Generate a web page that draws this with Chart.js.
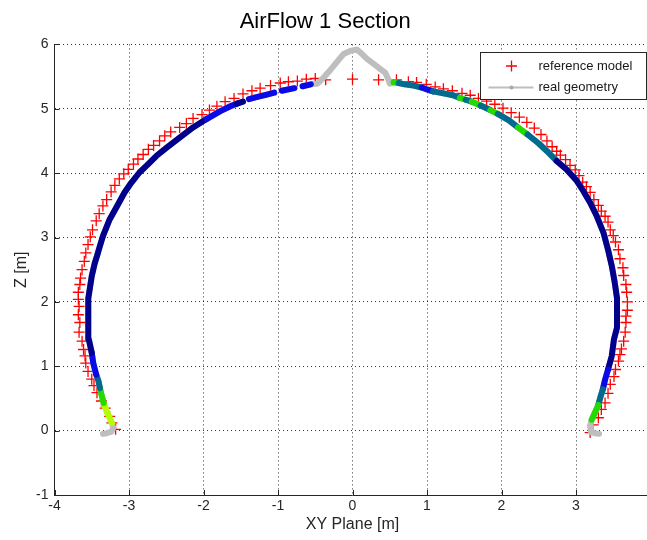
<!DOCTYPE html>
<html>
<head>
<meta charset="utf-8">
<title>AirFlow 1 Section</title>
<script src="https://cdn.jsdelivr.net/npm/chart.js@4.4.1/dist/chart.umd.min.js"></script>
<style>
  html, body { margin: 0; padding: 0; background: #fff; overflow: hidden; }
  #wrap { position: absolute; left: 0; top: 0; width: 705px; height: 540px; }
</style>
</head>
<body>
<div id="wrap"><canvas id="section" width="705" height="540"></canvas></div>
<script>
// reference model (red crosses), from bottom left over the crown to bottom right
const refX = [-3.18, -3.23, -3.26, -3.32, -3.37, -3.43, -3.47, -3.50, -3.55, -3.58, -3.59, -3.61, -3.63, -3.67, -3.66, -3.68, -3.67, -3.68, -3.68,
  -3.66, -3.65, -3.63, -3.60, -3.58, -3.55, -3.52, -3.49, -3.44, -3.40, -3.35, -3.30, -3.24, -3.19, -3.13, -3.07, -3.01, -2.94, -2.88, -2.81,
  -2.74, -2.67, -2.59, -2.52, -2.44, -2.32, -2.23, -2.14, -2.02, -1.92, -1.82, -1.71, -1.59, -1.47, -1.35, -1.24, -1.10, -0.97, -0.86, -0.74,
  -0.62, -0.50, -0.36, 0.00, 0.35, 0.59, 0.75, 0.86, 0.99, 1.11, 1.22, 1.34, 1.47, 1.58, 1.69, 1.80, 1.91, 2.02, 2.13, 2.24, 2.34, 2.44,
  2.53, 2.61, 2.68, 2.74, 2.79, 2.86, 2.92, 2.99, 3.04, 3.09, 3.14, 3.19, 3.24, 3.30, 3.34, 3.39, 3.43, 3.46, 3.50, 3.53, 3.57, 3.59, 3.63,
  3.64, 3.67, 3.68, 3.69, 3.69, 3.67, 3.67, 3.66, 3.64, 3.61, 3.59, 3.57, 3.53, 3.51, 3.46, 3.43, 3.39, 3.34, 3.30, 3.23, 3.19];
const refZ = [0.02, 0.12, 0.22, 0.35, 0.46, 0.59, 0.70, 0.80, 0.92, 1.05, 1.16, 1.26, 1.39, 1.53, 1.68, 1.80, 1.93, 2.04, 2.15,
  2.27, 2.37, 2.50, 2.63, 2.76, 2.89, 3.01, 3.12, 3.26, 3.37, 3.49, 3.59, 3.71, 3.81, 3.91, 3.99, 4.06, 4.14, 4.22, 4.29,
  4.37, 4.43, 4.50, 4.58, 4.64, 4.71, 4.77, 4.85, 4.91, 4.98, 5.04, 5.11, 5.16, 5.23, 5.28, 5.32, 5.36, 5.40, 5.42, 5.43,
  5.46, 5.47, 5.45, 5.46, 5.45, 5.45, 5.42, 5.41, 5.38, 5.34, 5.31, 5.28, 5.24, 5.21, 5.16, 5.12, 5.07, 5.01, 4.94, 4.87, 4.79, 4.70,
  4.60, 4.50, 4.41, 4.34, 4.28, 4.21, 4.12, 4.05, 3.96, 3.86, 3.79, 3.70, 3.59, 3.50, 3.41, 3.33, 3.24, 3.12, 3.03, 2.93, 2.81, 2.67, 2.53,
  2.41, 2.27, 2.15, 2.00, 1.87, 1.78, 1.68, 1.53, 1.39, 1.27, 1.18, 1.08, 0.95, 0.84, 0.72, 0.58, 0.43, 0.33, 0.20, 0.09, -0.03];

// measured geometry, same direction; null z = no data
const geoX = [-3.35, -3.30, -3.24, -3.21, -3.23, -3.26, -3.30, -3.34, -3.37, -3.39, -3.41, -3.44, -3.48, -3.50, -3.54, -3.55, -3.55,
  -3.54, -3.52, -3.50, -3.46, -3.43, -3.39, -3.35, -3.26, -3.15, -3.06, -2.97, -2.86, -2.76, -2.63, -2.49, -2.32, -2.14, -1.96, -1.78,
  -1.64, -1.55, -1.47, -1.43, -1.39, -1.29, -1.15, -1.05, -1.00, -0.95, -0.78, -0.71, -0.67, -0.56, -0.47,
  -0.40, -0.30, -0.20, -0.12, -0.03, 0.06, 0.12, 0.19, 0.28, 0.37, 0.44, 0.48, 0.50,
  0.55, 0.62, 0.70, 0.82, 0.93, 1.00, 1.08, 1.17, 1.35, 1.44, 1.52, 1.60, 1.72, 1.85, 1.95, 2.10, 2.22, 2.35, 2.50, 2.63,
  2.74, 2.87, 3.01, 3.10, 3.19, 3.28, 3.37, 3.43, 3.48, 3.52, 3.55, 3.55, 3.55, 3.51, 3.48, 3.43, 3.39, 3.36, 3.33, 3.30, 3.25, 3.21,
  3.19, 3.20, 3.25, 3.31];
const geoZ = [-0.05, -0.04, -0.02, 0.04, 0.12, 0.20, 0.30, 0.43, 0.56, 0.66, 0.77, 0.87, 1.05, 1.21, 1.42, 1.67, 1.93,
  2.05, 2.25, 2.40, 2.60, 2.71, 2.87, 3.02, 3.28, 3.51, 3.70, 3.85, 4.01, 4.12, 4.27, 4.40, 4.55, 4.71, 4.84, 4.96,
  5.04, 5.08, 5.11, null, 5.15, 5.18, 5.22, 5.25, null, 5.28, 5.32, null, 5.35, 5.38, 5.39,
  5.47, 5.60, 5.74, 5.85, 5.90, 5.92, 5.86, 5.78, 5.70, 5.62, 5.56, 5.46, 5.39,
  5.41, 5.40, 5.38, 5.36, 5.33, 5.30, 5.27, 5.25, 5.21, 5.17, 5.14, 5.11, 5.05, 4.98, 4.92, 4.82, 4.71, 4.60, 4.46, 4.32,
  4.19, 4.06, 3.88, 3.72, 3.54, 3.33, 3.07, 2.81, 2.56, 2.30, 2.06, 1.80, 1.60, 1.42, 1.16, 0.95, 0.79, 0.64, 0.53, 0.40, 0.27, 0.17,
  0.07, -0.02, -0.04, -0.05];
// deviation class per point (0..4), null = plain geometry only
const geoLevel = [null, null, null, null, 4, 4, 4, 3, 3, 2, 2, 1, 1, 0, 0, 0, 0,
  0, 0, 0, 0, 0, 0, 0, 0, 0, 0, 0, 0, 0, 0, 0, 0, 0, 1, 1,
  1, 0, 0, null, 1, 1, 1, 1, null, 1, 1, null, 1, 1, null,
  null, null, null, null, null, null, null, null, null, null, null, null, null,
  3, 2, 2, 2, 1, 1, 2, 2, 2, 3, 2, 3, 2, 3, 2, 2, 3, 2, 2, 2,
  0, 0, 0, 0, 0, 0, 0, 0, 0, 0, 0, 0, 0, 0, 0, 1, 1, 2, 2, 3, 3, 3,
  null, null, null, null];

const xTicks = [-4, -3, -2, -1, 0, 1, 2, 3, 4];
const zTicks = [-1, 0, 1, 2, 3, 4, 5, 6];

const levelColors = ['#00008c', '#0a0ae6', '#006b8f', '#22dc00', '#b4ff00'];
const greyGeo = '#bebebe';
const FONT = '"Liberation Sans", Arial, sans-serif';

const refPoints = refX.map((x, i) => ({ x: x, y: refZ[i] }));
const geoPoints = geoX.map((x, i) => ({ x: x, y: geoZ[i] }));
const colouredPoints = geoX.map((x, i) => ({ x: x, y: geoLevel[i] === null ? null : geoZ[i] }));

// matlab style ticks pointing into the axes
const innerTicks = {
  id: 'innerTicks',
  afterDraw(chart) {
    const ctx = chart.ctx;
    const xs = chart.scales.x, ys = chart.scales.y;
    const a = chart.chartArea;
    ctx.save();
    ctx.strokeStyle = '#262626';
    ctx.lineWidth = 1;
    ctx.beginPath();
    xTicks.forEach(v => {
      const px = Math.round(xs.getPixelForValue(v)) + 0.5;
      ctx.moveTo(px, a.bottom);
      ctx.lineTo(px, a.bottom - 5);
    });
    zTicks.forEach(v => {
      const py = Math.round(ys.getPixelForValue(v)) + 0.5;
      ctx.moveTo(a.left, py);
      ctx.lineTo(a.left + 5, py);
    });
    ctx.stroke();
    ctx.restore();
  }
};

// boxed legend in the upper right corner of the axes
const boxLegend = {
  id: 'boxLegend',
  afterDraw(chart) {
    const ctx = chart.ctx;
    const a = chart.chartArea;
    const right = Math.round(a.right) - 4.5;
    const left = right - 166;
    const top = Math.round(a.top) + 8.5;
    const h = 47;
    ctx.save();
    ctx.fillStyle = '#fff';
    ctx.fillRect(left, top, right - left, h);
    ctx.strokeStyle = '#262626';
    ctx.lineWidth = 1;
    ctx.strokeRect(left, top, right - left, h);

    const sym = left + 31;
    const row1 = top + 13.5, row2 = top + 35;
    ctx.strokeStyle = 'red';
    ctx.lineWidth = 1.3;
    ctx.beginPath();
    ctx.moveTo(sym - 5.5, row1); ctx.lineTo(sym + 5.5, row1);
    ctx.moveTo(sym, row1 - 5.5); ctx.lineTo(sym, row1 + 5.5);
    ctx.stroke();

    ctx.strokeStyle = greyGeo;
    ctx.lineWidth = 2;
    ctx.beginPath();
    ctx.moveTo(left + 8, row2); ctx.lineTo(left + 53, row2);
    ctx.stroke();
    ctx.fillStyle = '#a8a8a8';
    ctx.beginPath();
    ctx.arc(sym, row2, 2, 0, Math.PI * 2);
    ctx.fill();

    ctx.fillStyle = '#1a1a1a';
    ctx.font = '13px ' + FONT;
    ctx.textBaseline = 'middle';
    ctx.textAlign = 'left';
    ctx.fillText('reference model', left + 58, row1);
    ctx.fillText('real geometry', left + 58, row2);
    ctx.restore();
  }
};

const ctx = document.getElementById('section').getContext('2d');
new Chart(ctx, {
  type: 'scatter',
  data: {
    datasets: [
      {
        label: 'real geometry (deviation)',
        data: colouredPoints,
        showLine: true,
        spanGaps: false,
        borderWidth: 6,
        borderCapStyle: 'round',
        borderJoinStyle: 'round',
        pointRadius: 0,
        borderColor: levelColors[0],
        segment: {
          borderColor: c => levelColors[geoLevel[c.p0DataIndex]] || levelColors[0]
        },
        order: 0
      },
      {
        label: 'real geometry',
        data: geoPoints,
        showLine: true,
        spanGaps: false,
        borderColor: greyGeo,
        borderWidth: 6,
        borderCapStyle: 'round',
        borderJoinStyle: 'round',
        pointRadius: 0,
        order: 1
      },
      {
        label: 'reference model',
        data: refPoints,
        showLine: false,
        pointStyle: 'cross',
        pointRadius: 5.5,
        borderColor: '#ff0000',
        backgroundColor: '#ff0000',
        borderWidth: 1.3,
        order: 2
      }
    ]
  },
  options: {
    responsive: false,
    animation: false,
    devicePixelRatio: 1,
    events: [],
    layout: { padding: { left: 0, right: 54.5, top: 0, bottom: 0 } },
    plugins: {
      legend: { display: false },
      tooltip: { enabled: false },
      title: {
        display: true,
        text: 'AirFlow 1 Section',
        color: '#000',
        font: { family: FONT, size: 22, weight: 'normal' },
        padding: { top: 9, bottom: 9 }
      }
    },
    scales: {
      x: {
        type: 'linear',
        min: -4,
        max: 4,
        afterBuildTicks: s => { s.ticks = xTicks.map(v => ({ value: v })); },
        afterFit: s => { s.height = 45; },
        ticks: {
          color: '#262626',
          font: { family: FONT, size: 14 },
          padding: 3,
          maxRotation: 0,
          autoSkip: false,
          // the last label sits past the page edge
          callback: v => (v === 4 ? '' : v)
        },
        grid: { color: 'rgba(0,0,0,0.8)', lineWidth: 1, drawTicks: false },
        border: { display: true, color: '#262626', width: 1, dash: [1, 3] },
        title: {
          display: true,
          text: 'XY Plane [m]',
          color: '#262626',
          font: { family: FONT, size: 16 },
          padding: { top: 0, bottom: 6 }
        }
      },
      y: {
        type: 'linear',
        min: -1,
        max: 6,
        afterBuildTicks: s => { s.ticks = zTicks.map(v => ({ value: v })); },
        afterFit: s => { s.width = 54.5; },
        ticks: {
          color: '#262626',
          font: { family: FONT, size: 14 },
          padding: 6,
          autoSkip: false
        },
        grid: { color: 'rgba(0,0,0,0.8)', lineWidth: 1, drawTicks: false },
        border: { display: true, color: '#262626', width: 1, dash: [1, 3] },
        title: {
          display: true,
          text: 'Z [m]',
          color: '#262626',
          font: { family: FONT, size: 16 },
          padding: { top: 12, bottom: 0 }
        }
      }
    }
  },
  plugins: [innerTicks, boxLegend]
});
</script>
</body>
</html>
